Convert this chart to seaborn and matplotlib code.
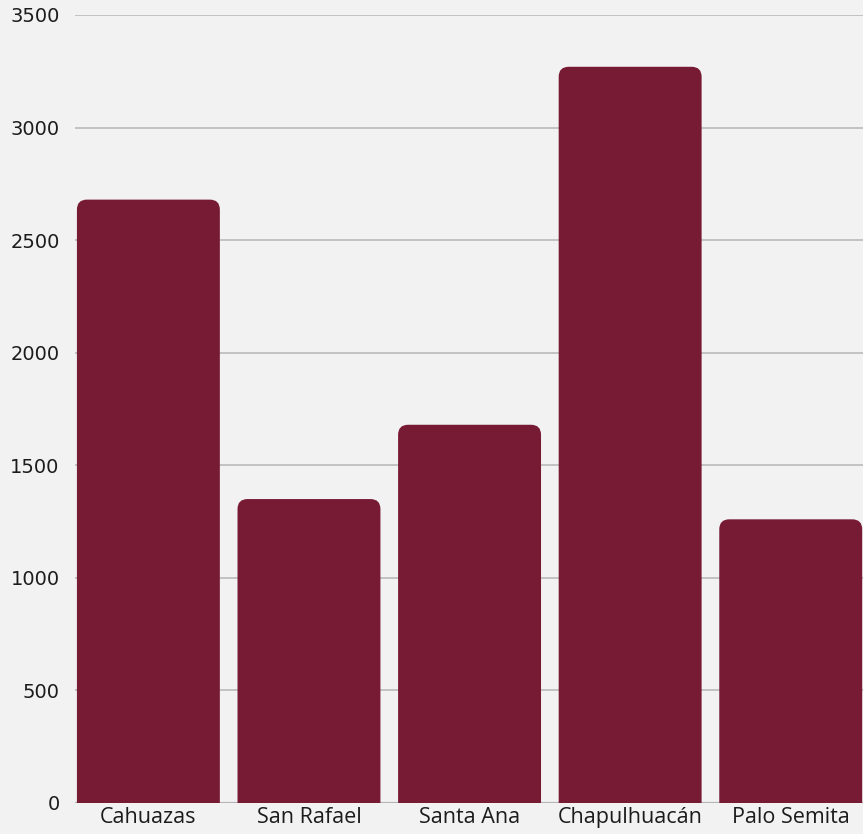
import matplotlib
matplotlib.use("Agg")
import matplotlib.pyplot as plt
from matplotlib.patches import FancyBboxPatch
import seaborn as sns
import pandas as pd

# Population per locality
localities = ["Cahuazas", "San Rafael", "Santa Ana", "Chapulhuacán", "Palo Semita"]
population = [2680, 1350, 1680, 3270, 1260]
y_ticks = [0, 500, 1000, 1500, 2000, 2500, 3000, 3500]

bar_color = "#771a34"
bg_color = "#f2f2f3"
grid_color = "#b5b5b5"
text_color = "#1c1c1c"

sns.set_theme(style="white")
plt.rcParams["font.family"] = ["Open Sans", "DejaVu Sans"]

df = pd.DataFrame({"locality": localities, "population": population})

fig = plt.figure(figsize=(8.63, 8.34), dpi=100)
fig.patch.set_facecolor(bg_color)
ax = fig.add_axes([75 / 863, 1 - 803 / 834, 788 / 863, 788 / 834])
ax.set_facecolor(bg_color)

sns.barplot(data=df, x="locality", y="population", color=bar_color,
            width=0.89, saturation=1, ax=ax, zorder=3)

ax.set_ylim(0, 3500)
ax.set_xlim(-0.457, 4.45)

# Replace plain bars with top-rounded ones
ax_w_px = 788
ax_h_px = 788
x_per_px = (4.45 + 0.457) / ax_w_px
y_per_px = 3500 / ax_h_px
radius_px = 10
for p in list(ax.patches):
    x0, w, h = p.get_x(), p.get_width(), p.get_height()
    p.set_visible(False)
    extra = 200
    rb = FancyBboxPatch((x0, -extra), w, h + extra,
                        boxstyle=f"round,pad=0,rounding_size={radius_px * x_per_px}",
                        mutation_aspect=y_per_px / x_per_px,
                        facecolor=bar_color, edgecolor="none", zorder=3)
    ax.add_patch(rb)

ax.set_yticks(y_ticks)
ax.yaxis.grid(True, color=grid_color, linewidth=1.1, zorder=0)
ax.xaxis.grid(False)
ax.set_axisbelow(True)
for s in ax.spines.values():
    s.set_visible(False)
ax.axhline(0, color=grid_color, linewidth=1.6, zorder=2)

ax.set_xlabel("")
ax.set_ylabel("")
ax.tick_params(axis="y", colors=text_color, length=0, pad=11)
ax.tick_params(axis="x", labelsize=15.5, colors=text_color, length=0, pad=3)
for lbl in ax.get_yticklabels():
    lbl.set_fontfamily("DejaVu Sans")
    lbl.set_fontsize(14)

fig.savefig("out.png", dpi=100, facecolor=bg_color)
